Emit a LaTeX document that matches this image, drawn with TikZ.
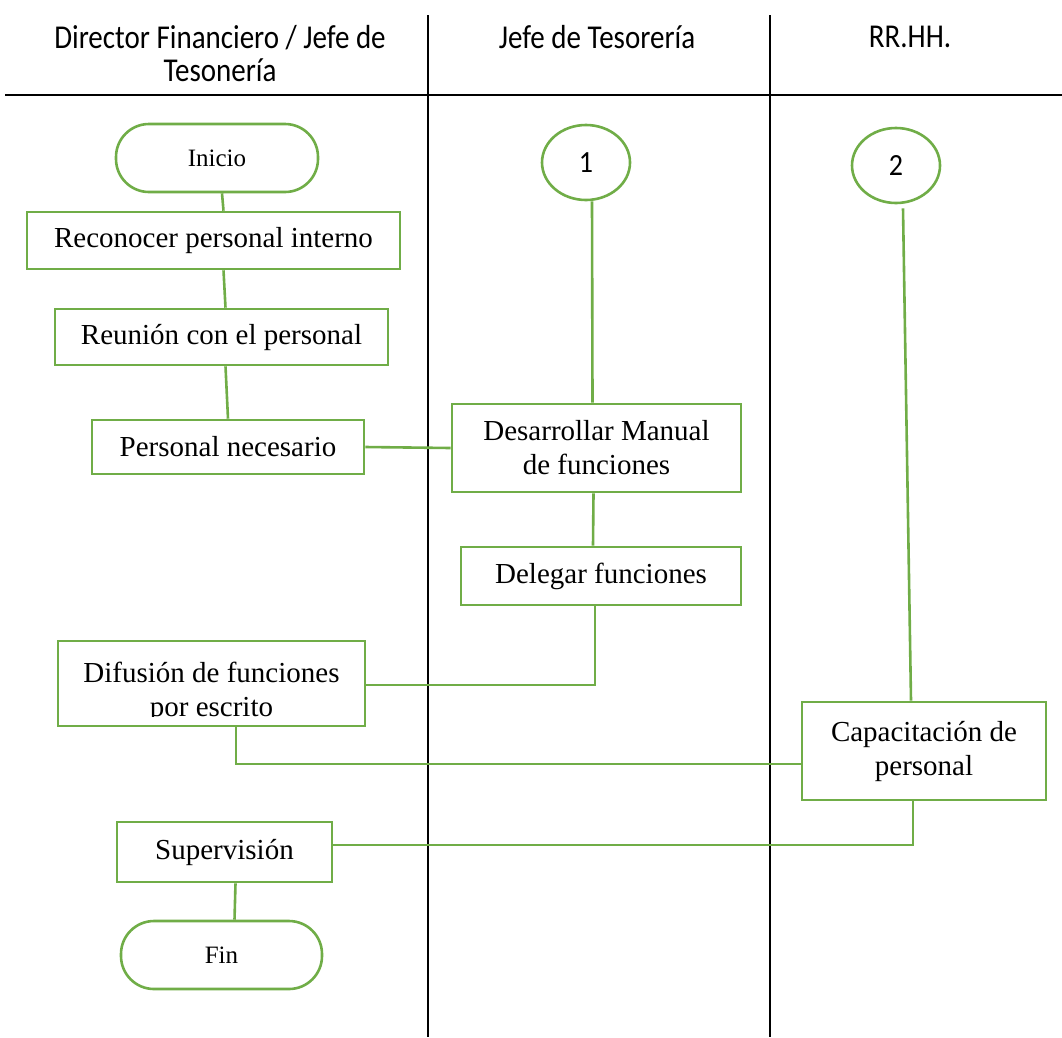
\documentclass[tikz,border=0pt]{standalone}
\usepackage{fontspec}
\setmainfont{Liberation Serif}
\newfontfamily\hdrfont{Carlito}
\usetikzlibrary{shapes.geometric}
\definecolor{flowgreen}{HTML}{70AD47}
% tall Calibri-like digits for the connector circles
\newcommand{\tallnum}[1]{\scalebox{1}[1.1]{#1}}

\begin{document}
\begin{tikzpicture}[x=1pt,y=-1pt,
  box/.style={draw=flowgreen,line width=2.6pt,fill=white,inner sep=0pt,
    font=\fontsize{29}{34}\selectfont,align=center},
  term/.style={box,rounded corners=33pt,font=\fontsize{25}{30}\selectfont},
  conn/.style={draw=flowgreen,line width=2.6pt},
  lane/.style={draw=black,line width=2pt},
  hdr/.style={font=\hdrfont\fontsize{29}{29}\selectfont,align=center,
    yscale=1.15,transform shape},
  circ/.style={ellipse,draw=flowgreen,line width=2.6pt,fill=white,inner sep=0pt,
    minimum width=88pt,minimum height=75pt,font=\hdrfont\fontsize{28}{30}\selectfont},
  btext/.style={font=\fontsize{29}{34}\selectfont,inner sep=0pt,anchor=base}]

% page frame
\useasboundingbox (0,0) rectangle (1062,1037);

% swimlane grid
\draw[lane] (428,15) -- (428,1037);
\draw[lane] (770,15) -- (770,1037);
\draw[lane] (5,95) -- (1062,95);

% lane headers
\node[hdr] (h1) at (220,53.5) {Director Financiero / Jefe de\\Tesonería};
\node[hdr] (h2) at (597,37) {Jefe de Tesorería};
\node[hdr] (h3) at (910,37) {RR.HH.};

% flow nodes
\node[term,minimum width=202pt,minimum height=68pt] (ini) at (217,158) {Inicio};
\node[box,minimum width=373pt,minimum height=57pt] (rec) at (213.5,240.5) {Reconocer personal interno};
\node[box,minimum width=333pt,minimum height=56pt] (reu) at (221.5,337) {Reunión con el personal};
\node[box,minimum width=272pt,minimum height=54pt] (nec) at (228,447) {Personal necesario};
\node[box,minimum width=289pt,minimum height=88pt] (man) at (596.5,448) {Desarrollar Manual\\de funciones};
\node[box,minimum width=280pt,minimum height=58pt] (del) at (601,576) {Delegar funciones};
\node[box,minimum width=307pt,minimum height=85pt] (dif) at (211.5,683.5) {};
\begin{scope}
  \clip (60,643) rectangle (363,716);
  \node[btext] (dif1) at (211.5,682) {Difusión de funciones};
  \node[btext] (dif2) at (211.5,716) {por escrito};
\end{scope}
\node[box,minimum width=244pt,minimum height=98pt] (cap) at (924,751) {Capacitación de\\personal};
\node[box,minimum width=215pt,minimum height=60pt] (sup) at (224.5,852) {Supervisión};
\node[term,minimum width=201pt,minimum height=68pt] (fin) at (221.5,955) {Fin};
\node[circ] (c1) at (586,162.5) {\tallnum{1}};
\node[circ] (c2) at (896,165.5) {\tallnum{2}};

% connectors
\draw[conn] ([xshift=5pt]ini.south) -- ([xshift=10pt]rec.north);
\draw[conn] ([xshift=10pt]rec.south) -- ([xshift=4pt]reu.north);
\draw[conn] ([xshift=4pt]reu.south) -- (nec.north);
\draw[conn] (nec.east) -- (man.west);
\draw[conn] ([xshift=6pt]c1.south) -- ([xshift=-4pt]man.north);
\draw[conn] ([xshift=-3pt]man.south) -- ([xshift=-8pt]del.north);
\draw[conn] ([xshift=-6pt]del.south) |- ([yshift=-1.5pt]dif.east);
\draw[conn] ([xshift=24.5pt]dif.south) |- ([yshift=-13pt]cap.west);
\draw[conn] ([xshift=7pt,yshift=-4pt]c2.south) -- ([xshift=-13pt]cap.north);
\draw[conn] ([xshift=-11pt]cap.south) |- ([yshift=7pt]sup.east);
\draw[conn] ([xshift=11pt]sup.south) -- ([xshift=13pt]fin.north);
\end{tikzpicture}
\end{document}
